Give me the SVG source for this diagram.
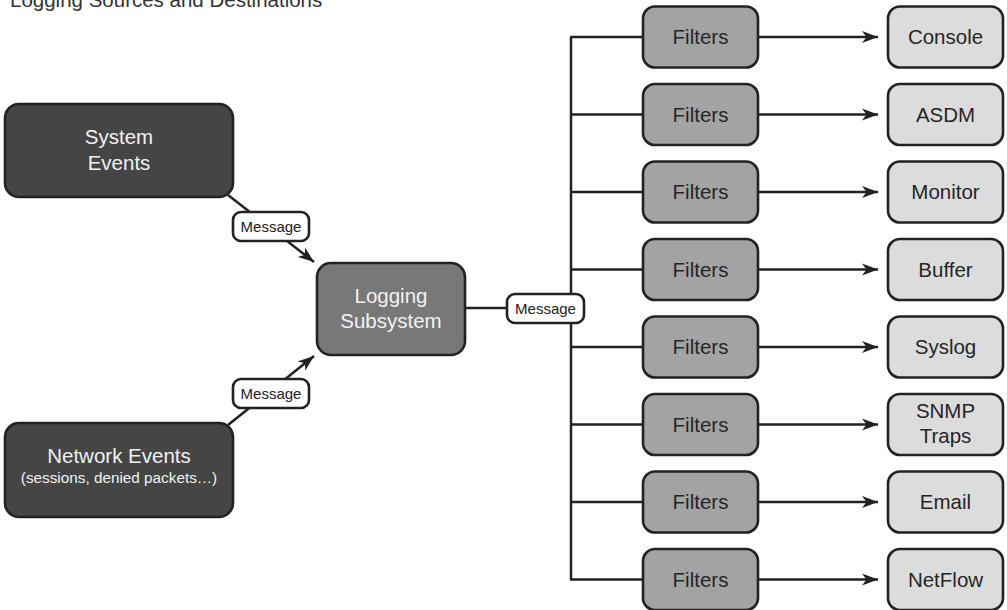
<svg xmlns="http://www.w3.org/2000/svg" width="1007" height="610" viewBox="0 0 1007 610">
<style>
text{font-family:"Liberation Sans",Arial,sans-serif;text-anchor:middle}
.box{stroke:#222;stroke-width:2.6}
.src{fill:#454545}
.log{fill:#787878}
.flt{fill:#a3a3a3}
.dst{fill:#dcdcdc}
.lt{fill:#f2f2f2;font-size:20.5px}
.dt{fill:#262626;font-size:20.5px}
.msg{fill:#fff;stroke:#222;stroke-width:2.6}
.mt{fill:#222;font-size:15px}
.ln{stroke:#222;stroke-width:2.5;fill:none}
.ar{marker-end:url(#ah)}
</style>
<defs>
<marker id="ah" markerUnits="userSpaceOnUse" markerWidth="17" markerHeight="13" refX="16" refY="6.5" orient="auto">
<path d="M0,0.5 L16,6.5 L0,12.5 L4.5,6.5 Z" fill="#222"/>
</marker>
</defs>
<text x="10" y="7" style="text-anchor:start;font-size:20.5px;fill:#333">Logging Sources and Destinations</text>
<g id="connectors">
<line class="ln ar" x1="228" y1="195" x2="314" y2="262"/>
<line class="ln ar" x1="228" y1="425" x2="314" y2="356"/>
<line class="ln" x1="465" y1="308" x2="571" y2="308"/>
<line class="ln" x1="571" y1="37" x2="571" y2="580"/>
<line class="ln" x1="570" y1="37" x2="643" y2="37"/>
<line class="ln" x1="570" y1="114.5" x2="643" y2="114.5"/>
<line class="ln" x1="570" y1="192" x2="643" y2="192"/>
<line class="ln" x1="570" y1="269.5" x2="643" y2="269.5"/>
<line class="ln" x1="570" y1="347" x2="643" y2="347"/>
<line class="ln" x1="570" y1="424.5" x2="643" y2="424.5"/>
<line class="ln" x1="570" y1="502" x2="643" y2="502"/>
<line class="ln" x1="570" y1="579.5" x2="643" y2="579.5"/>
<line class="ln ar" x1="758" y1="37" x2="878" y2="37"/>
<line class="ln ar" x1="758" y1="114.5" x2="878" y2="114.5"/>
<line class="ln ar" x1="758" y1="192" x2="878" y2="192"/>
<line class="ln ar" x1="758" y1="269.5" x2="878" y2="269.5"/>
<line class="ln ar" x1="758" y1="347" x2="878" y2="347"/>
<line class="ln ar" x1="758" y1="424.5" x2="878" y2="424.5"/>
<line class="ln ar" x1="758" y1="502" x2="878" y2="502"/>
<line class="ln ar" x1="758" y1="579.5" x2="878" y2="579.5"/>
<g id="msg1"><rect class="msg" x="233" y="212" width="76" height="29" rx="8"/><text class="mt" x="271" y="232">Message</text></g>
<g id="msg2"><rect class="msg" x="233" y="379" width="76" height="29" rx="8"/><text class="mt" x="271" y="399">Message</text></g>
<g id="msg3"><rect class="msg" x="507" y="294" width="77" height="29" rx="8"/><text class="mt" x="545.5" y="314">Message</text></g>
</g>
<g id="system-events"><rect class="box src" x="5" y="104" width="228" height="93" rx="14"/><text class="lt" x="119" y="144">System</text><text class="lt" x="119" y="170">Events</text></g>
<g id="network-events"><rect class="box src" x="5" y="423" width="228" height="94" rx="14"/><text class="lt" x="119" y="463">Network Events</text><text class="lt" x="119" y="483" style="font-size:15.3px">(sessions, denied packets…)</text></g>
<g id="logging-subsystem"><rect class="box log" x="317" y="263" width="148" height="92" rx="14"/><text class="lt" x="391" y="303">Logging</text><text class="lt" x="391" y="328">Subsystem</text></g>
<g id="filters1"><rect class="box flt" x="643" y="6.5" width="115" height="61" rx="12"/><text class="dt" x="700.5" y="44">Filters</text></g>
<g id="filters2"><rect class="box flt" x="643" y="84" width="115" height="61" rx="12"/><text class="dt" x="700.5" y="121.5">Filters</text></g>
<g id="filters3"><rect class="box flt" x="643" y="161.5" width="115" height="61" rx="12"/><text class="dt" x="700.5" y="199">Filters</text></g>
<g id="filters4"><rect class="box flt" x="643" y="239" width="115" height="61" rx="12"/><text class="dt" x="700.5" y="276.5">Filters</text></g>
<g id="filters5"><rect class="box flt" x="643" y="316.5" width="115" height="61" rx="12"/><text class="dt" x="700.5" y="354">Filters</text></g>
<g id="filters6"><rect class="box flt" x="643" y="394" width="115" height="61" rx="12"/><text class="dt" x="700.5" y="431.5">Filters</text></g>
<g id="filters7"><rect class="box flt" x="643" y="471.5" width="115" height="61" rx="12"/><text class="dt" x="700.5" y="509">Filters</text></g>
<g id="filters8"><rect class="box flt" x="643" y="549" width="115" height="61" rx="12"/><text class="dt" x="700.5" y="586.5">Filters</text></g>
<g id="console"><rect class="box dst" x="888" y="6.5" width="115" height="61" rx="12"/><text class="dt" x="945.5" y="44">Console</text></g>
<g id="asdm"><rect class="box dst" x="888" y="84" width="115" height="61" rx="12"/><text class="dt" x="945.5" y="121.5">ASDM</text></g>
<g id="monitor"><rect class="box dst" x="888" y="161.5" width="115" height="61" rx="12"/><text class="dt" x="945.5" y="199">Monitor</text></g>
<g id="buffer"><rect class="box dst" x="888" y="239" width="115" height="61" rx="12"/><text class="dt" x="945.5" y="276.5">Buffer</text></g>
<g id="syslog"><rect class="box dst" x="888" y="316.5" width="115" height="61" rx="12"/><text class="dt" x="945.5" y="354">Syslog</text></g>
<g id="snmp-traps"><rect class="box dst" x="888" y="394" width="115" height="61" rx="12"/><text class="dt" x="945.5" y="418">SNMP</text><text class="dt" x="945.5" y="443">Traps</text></g>
<g id="email"><rect class="box dst" x="888" y="471.5" width="115" height="61" rx="12"/><text class="dt" x="945.5" y="509">Email</text></g>
<g id="netflow"><rect class="box dst" x="888" y="549" width="115" height="61" rx="12"/><text class="dt" x="945.5" y="586.5">NetFlow</text></g>
</svg>
